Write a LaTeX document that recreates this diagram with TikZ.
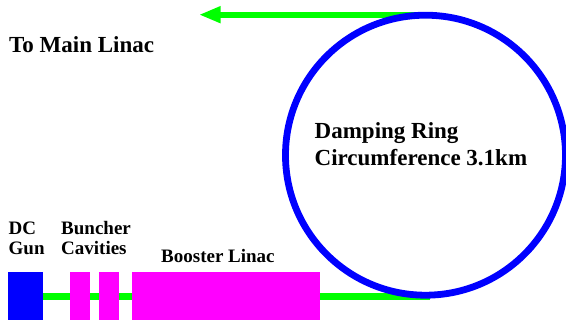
\documentclass[tikz,border=0pt]{standalone}
\usepackage{fontspec}
\setmainfont{Liberation Serif}
\definecolor{beam}{RGB}{0,255,0}
\definecolor{cav}{RGB}{255,0,255}
\definecolor{ringblue}{RGB}{0,0,255}
\tikzset{
 lab/.style={font=\bfseries\fontsize{23}{26.7}\selectfont,anchor=west,align=left,inner sep=0pt},
 slab/.style={font=\bfseries\fontsize{19}{20}\selectfont,anchor=west,align=left,inner sep=0pt},
 blk/.style={fill=#1,draw=none,inner sep=0pt,anchor=south west},
 beamline/.style={draw=beam,line width=6.3pt}
}
\begin{document}
\begin{tikzpicture}[x=1pt,y=-1pt]
\useasboundingbox (0,0) rectangle (566,326);
\coordinate (tip) at (200,14.7);
\coordinate (top) at (430,14.7);
\coordinate (bot) at (430,296.5);
\coordinate (start) at (25,296.5);
\draw[beamline] (top) -- (218,14.7);
\fill[beam] (tip) -- (220.5,6) -- (220.5,23.4) -- cycle;
\draw[beamline] (start) -- (bot);
\node[blk=ringblue,minimum width=34.5pt,minimum height=48.5pt] (gun) at (8,320.5) {};
\node[blk=cav,minimum width=20pt,minimum height=48.5pt] (c1) at (70,320.5) {};
\node[blk=cav,minimum width=20pt,minimum height=48.5pt] (c2) at (99,320.5) {};
\node[blk=cav,minimum width=187.5pt,minimum height=48.5pt] (linac) at (132,320.5) {};
\node[draw=ringblue,line width=6.8pt,circle,minimum size=280pt,inner sep=0pt] (ring) at (425.5,155.2) {};
\node[lab,anchor=base west] (tomain) at (9,52.3) {To Main Linac};
\node[lab] (damp) at (314.5,144.3) {Damping Ring\\Circumference 3.1km};
\node[slab] (dc) at (8.5,238.3) {DC\\Gun};
\node[slab] (bunch) at (61,238.3) {Buncher\\Cavities};
\node[slab,anchor=base west] (boost) at (161,262.7) {Booster Linac};
\end{tikzpicture}
\end{document}
